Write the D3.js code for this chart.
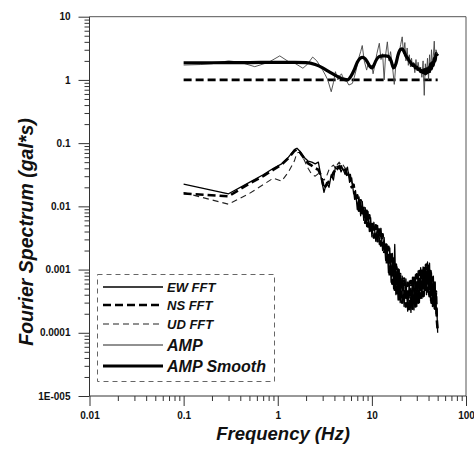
<!DOCTYPE html>
<html><head><meta charset="utf-8">
<script src="https://cdn.jsdelivr.net/npm/d3@7"></script>
<style>html,body{margin:0;padding:0;background:#fff;}svg{display:block;}</style>
</head><body><svg id="c" width="474" height="450"></svg>
<script>
// ---------- data ----------
const xTickValues = [0.01, 0.1, 1, 10, 100];
const xTickLabels = ["0.01", "0.1", "1", "10", "100"];
const yTickValues = [10, 1, 0.1, 0.01, 0.001, 0.0001, 0.00001];
const yTickLabels = ["10", "1", "0.1", "0.01", "0.001", "0.0001", "1E-005"];

const fftFreq = [
  0.1, 0.3, 0.5, 0.7, 0.9, 1.1, 1.3, 1.5, 1.6, 1.7,
  1.9, 2.1, 2.3, 2.5, 2.7, 2.9, 3.1, 3.3, 3.5, 3.7,
  3.9, 4.1, 4.3, 4.5, 4.7, 4.9, 5.2,
  5.5, 5.8, 6.1, 6.4, 6.7, 7.0, 7.3, 7.6, 7.9, 8.2,
  8.5, 8.8, 9.1, 9.4, 9.7, 10, 10.5, 11, 11.5, 12,
  12.5, 13, 13.5, 14, 14.5, 15, 15.5, 16, 16.5, 17,
  17.5, 18, 18.5, 19, 19.5, 20, 21, 22, 23, 24,
  25, 26, 27, 28, 29, 30, 31, 32, 33, 34,
  35, 36, 37, 38, 39, 40, 41, 42, 43, 44,
  45, 46, 47, 48, 49, 50];
const ewFFT = [
  0.0224, 0.0158, 0.024, 0.0316, 0.040, 0.047, 0.060, 0.079, 0.083, 0.076,
  0.060, 0.052, 0.050, 0.047, 0.050, 0.028, 0.0166, 0.024, 0.020, 0.0316,
  0.026, 0.042, 0.038, 0.045, 0.035, 0.040, 0.032,
  0.0417, 0.0240, 0.0282, 0.0158, 0.0178, 0.0089, 0.0141, 0.0071, 0.0120, 0.0060,
  0.0095, 0.0048, 0.0083, 0.0040, 0.0066, 0.0033, 0.0056, 0.0028, 0.0050, 0.0025,
  0.0045, 0.0020, 0.0032, 0.0014, 0.0025, 0.00089, 0.0022, 0.00063, 0.0018, 0.0005,
  0.0025, 0.0004, 0.0011, 0.00033, 0.0010, 0.0003, 0.00079, 0.00026, 0.00071, 0.00022,
  0.00066, 0.00021, 0.00076, 0.00023, 0.00083, 0.00026, 0.00095, 0.0003, 0.00107, 0.00035,
  0.0011, 0.00038, 0.0012, 0.0004, 0.00132, 0.0004, 0.00126, 0.00032, 0.00089, 0.00026,
  0.00079, 0.00024, 0.00063, 0.0002, 0.00025, 0.0001];
const nsFFT = [
  0.016, 0.0144, 0.023, 0.030, 0.038, 0.046, 0.058, 0.075, 0.080, 0.074,
  0.058, 0.048, 0.044, 0.040, 0.038, 0.030, 0.019, 0.022, 0.025, 0.028,
  0.034, 0.038, 0.042, 0.040, 0.043, 0.036, 0.038,
  0.030, 0.033, 0.020, 0.022, 0.012, 0.015, 0.0085, 0.0125, 0.0070, 0.0100,
  0.0055, 0.0085, 0.0048, 0.0072, 0.0037, 0.0058, 0.0032, 0.0050, 0.0028, 0.0048,
  0.0024, 0.0036, 0.0018, 0.0027, 0.0012, 0.0023, 0.00078, 0.0019, 0.0006, 0.0015,
  0.00048, 0.0012, 0.00038, 0.0010, 0.00034, 0.00085, 0.0003, 0.00072, 0.00026, 0.00062,
  0.00022, 0.00066, 0.00024, 0.00074, 0.00026, 0.00084, 0.0003, 0.00095, 0.00036, 0.00105,
  0.00038, 0.0011, 0.00043, 0.0012, 0.00045, 0.00125, 0.00038, 0.00095, 0.0003, 0.00075,
  0.00027, 0.00068, 0.00024, 0.00045, 0.00016, 0.00011];
const udFFT = [
  0.0165, 0.0108, 0.016, 0.022, 0.028, 0.025, 0.035, 0.052, 0.070, 0.072,
  0.055, 0.040, 0.032, 0.030, 0.033, 0.028, 0.026, 0.030, 0.038, 0.042,
  0.045, 0.040, 0.046, 0.050, 0.044, 0.046, 0.040,
  0.040, 0.030, 0.024, 0.018, 0.015, 0.011, 0.0115, 0.0090, 0.0095, 0.0072,
  0.0075, 0.0060, 0.0065, 0.0050, 0.0052, 0.0040, 0.0045, 0.0035, 0.0040, 0.0033,
  0.0034, 0.0025, 0.0025, 0.0018, 0.0018, 0.0013, 0.0014, 0.0010, 0.0011, 0.0008,
  0.0009, 0.0006, 0.00068, 0.0005, 0.00062, 0.00045, 0.00052, 0.00038, 0.00045, 0.00034,
  0.00042, 0.00033, 0.00045, 0.00036, 0.0005, 0.0004, 0.00055, 0.00045, 0.0006, 0.0005,
  0.00068, 0.00055, 0.00072, 0.0006, 0.0008, 0.0007, 0.00075, 0.00055, 0.0005, 0.0004,
  0.00045, 0.00035, 0.00038, 0.0003, 0.0002, 0.00011];

const ampFreq = [
  0.1, 0.15, 0.2, 0.3, 0.4, 0.57, 0.8, 1.05, 1.3, 1.55,
  1.85, 2.05, 2.35, 2.6, 3.0, 3.2, 3.4, 3.7, 3.9, 4.1,
  4.35, 4.55, 4.75, 5.0, 5.3, 5.7, 6.2, 6.5, 6.8, 7.3,
  7.6, 7.9, 8.3, 8.8, 9.2, 9.6, 10.0, 10.3, 10.8, 11.3,
  12.0, 12.5, 13.0, 13.5, 14.0, 14.6, 15.2, 15.8, 16.5, 17.3,
  18.0, 18.7, 19.5, 20.2, 21.0, 21.7, 22.4, 23.0, 23.7, 24.4,
  25.0, 25.7, 26.4, 27.0, 27.8, 28.6, 29.4, 30.2, 31.0, 32,
  33, 34, 35, 36, 37, 38, 39, 40, 41, 42,
  43, 44, 45, 46, 47, 48, 49, 50];
const ampVal = [
  1.72, 1.75, 1.8, 2.0, 1.9, 1.62, 1.9, 2.4, 1.95, 1.8,
  1.53, 1.75, 2.3, 2.0, 1.43, 1.2, 1.0, 0.65, 0.9, 1.35,
  1.0, 1.15, 1.25, 1.05, 1.0, 0.83, 0.88, 1.1, 1.43, 2.3,
  2.8, 3.5, 2.0, 1.43, 1.9, 1.6, 1.7, 1.25, 1.8, 2.6,
  3.8, 2.1, 2.6, 1.0, 2.5, 4.0, 2.0, 2.8, 1.7, 0.85,
  1.8, 2.4, 2.7, 3.6, 4.8, 2.6, 3.9, 2.0, 3.2, 1.7,
  2.5, 1.6, 2.2, 1.6, 1.9, 1.3, 2.1, 1.4, 1.9, 1.4,
  1.6, 1.1, 2.0, 0.57, 1.8, 1.2, 2.2, 1.0, 2.5, 1.3,
  3.0, 1.6, 2.4, 4.1, 1.9, 3.0, 2.7, 2.6];

const smoothFreq = [
  0.1, 0.2, 0.5, 1, 1.5, 2, 2.5, 3, 3.5, 4,
  4.5, 5, 5.5, 6, 6.5, 7, 7.5, 8, 8.5, 9,
  9.5, 10, 10.5, 11, 12, 13, 14, 15, 16, 17,
  18, 19, 20, 21, 22, 23, 24, 25, 26, 27,
  28, 29, 30, 31, 32, 33, 34, 35, 36, 37,
  38, 39, 40, 41, 42, 43, 44, 45, 46, 47,
  48, 49, 50];
const smoothVal = [
  1.87, 1.87, 1.88, 1.9, 1.9, 1.88, 1.75, 1.55, 1.35, 1.2,
  1.1, 1.03, 1.0, 1.15, 1.45, 1.9, 2.2, 2.28, 2.15, 1.9,
  1.65, 1.55, 1.7, 2.0, 2.35, 2.4, 2.4, 2.35, 2.0, 1.55,
  1.8, 2.5, 3.0, 3.1, 2.8, 2.4, 2.2, 2.0, 1.85, 1.7,
  1.75, 1.55, 1.6, 1.45, 1.5, 1.35, 1.4, 1.3, 1.45, 1.25,
  1.5, 1.3, 1.55, 1.35, 1.8, 1.5, 1.9, 1.7, 2.2, 2.0,
  2.6, 2.5, 2.6];

const refFreq = [0.1, 50];
const refVal = [1, 1];

const legendLabels = ["EW FFT", "NS FFT", "UD FFT", "AMP", "AMP Smooth"];

// ---------- drawing ----------
const svg = d3.select("#c");
const FONT = "'Liberation Sans', Arial, Helvetica, sans-serif";
const L = 89.5, R = 466, T = 16.7, B = 396;
const x = d3.scaleLog().domain([0.01, 100]).range([L, R]);
const y = d3.scaleLog().domain([1e-5, 10]).range([B, T]);

// frame (top and right)
svg.append("path").attr("d", `M${L},${T}H${R}V${B}`)
  .attr("fill", "none").attr("stroke", "#555").attr("stroke-width", 1);

// x axis
const xMinor = [];
for (let d = 0.01; d < 100; d *= 10) for (let k = 2; k <= 9; k++) xMinor.push(+(d * k).toPrecision(3));
const xAxisMinor = d3.axisBottom(x).tickValues(xMinor).tickSize(5).tickFormat("");
const xAxis = d3.axisBottom(x).tickValues(xTickValues).tickSize(10).tickPadding(6)
  .tickFormat((d, i) => xTickLabels[i]);
const gx1 = svg.append("g").attr("transform", `translate(0,${B})`).call(xAxisMinor);
const gx = svg.append("g").attr("transform", `translate(0,${B})`).call(xAxis);
[gx, gx1].forEach(g => {
  g.select(".domain").attr("stroke", "#333");
  g.selectAll(".tick line").attr("stroke", "#333");
});
gx1.select(".domain").remove();
gx.select(".domain").attr("d", `M${L},0H${R}`);
gx.selectAll("text").attr("font-family", FONT).attr("font-weight", "bold")
  .attr("font-size", 10).attr("fill", "#111");

// y axis
const yMinor = [];
for (let d = 1e-5; d < 10; d *= 10) for (let k = 2; k <= 9; k++) yMinor.push(+(d * k).toPrecision(3));
const yAxisMinor = d3.axisLeft(y).tickValues(yMinor).tickSize(5).tickFormat("");
const yAxis = d3.axisLeft(y).tickValues(yTickValues).tickSize(11).tickPadding(8)
  .tickFormat((d, i) => yTickLabels[i]);
const gy1 = svg.append("g").attr("transform", `translate(${L},0)`).call(yAxisMinor);
const gy = svg.append("g").attr("transform", `translate(${L},0)`).call(yAxis);
[gy, gy1].forEach(g => {
  g.select(".domain").attr("stroke", "#333");
  g.selectAll(".tick line").attr("stroke", "#333");
});
gy1.select(".domain").remove();
gy.select(".domain").attr("d", `M0,${B}V${T}`);
gy.selectAll("text").attr("font-family", FONT).attr("font-weight", "bold")
  .attr("font-size", 10).attr("fill", "#111");

// axis titles
svg.append("text").attr("x", 283).attr("y", 440).attr("text-anchor", "middle")
  .attr("font-family", FONT).attr("font-weight", "bold").attr("font-style", "italic")
  .attr("font-size", 18.5).attr("fill", "#111").text("Frequency (Hz)");
svg.append("text").attr("transform", "translate(33,232) rotate(-90)").attr("text-anchor", "middle")
  .attr("font-family", FONT).attr("font-weight", "bold").attr("font-style", "italic")
  .attr("font-size", 19.5).attr("fill", "#111").text("Fourier Spectrum (gal*s)");

// series
const line = d3.line().x(d => x(d[0])).y(d => y(d[1]));
const smoothLine = d3.line().x(d => x(d[0])).y(d => y(d[1])).curve(d3.curveMonotoneX);
const plot = svg.append("g");

const styles = {
  ew: {stroke: "#000", width: 1.3, dash: null},
  ns: {stroke: "#000", width: 2.6, dash: "8,4"},
  ud: {stroke: "#222", width: 1.1, dash: "6,4"},
  amp: {stroke: "#444", width: 0.9, dash: null},
  smooth: {stroke: "#000", width: 3.2, dash: null}
};
function draw(data, st, gen) {
  plot.append("path").datum(data).attr("d", gen || line).attr("fill", "none")
    .attr("stroke", st.stroke).attr("stroke-width", st.width)
    .attr("stroke-dasharray", st.dash).attr("stroke-linejoin", "round");
}
draw(d3.zip(refFreq, refVal), styles.ns);
draw(d3.zip(fftFreq, udFFT), styles.ud);
draw(d3.zip(fftFreq, nsFFT), styles.ns);
draw(d3.zip(fftFreq, ewFFT), styles.ew);
draw(d3.zip(ampFreq, ampVal), styles.amp);
draw(d3.zip(smoothFreq, smoothVal), styles.smooth, smoothLine);

// legend
const lg = svg.append("g");
lg.append("rect").attr("x", 97.5).attr("y", 274.5).attr("width", 177).attr("height", 107)
  .attr("fill", "#fff").attr("stroke", "#666").attr("stroke-width", 1).attr("stroke-dasharray", "5,4");
const legY = [287, 305, 324, 345, 366];
const legStyles = [styles.ew, styles.ns, styles.ud, styles.amp, styles.smooth];
const legSizes = [13, 13, 13, 16, 16];
legendLabels.forEach((lab, i) => {
  const st = legStyles[i];
  lg.append("line").attr("x1", 103).attr("x2", 163).attr("y1", legY[i]).attr("y2", legY[i])
    .attr("stroke", i === 3 ? "#222" : st.stroke).attr("stroke-width", i === 3 ? 1 : st.width)
    .attr("stroke-dasharray", st.dash);
  lg.append("text").attr("x", 167).attr("y", legY[i] + legSizes[i] * 0.36)
    .attr("font-family", FONT).attr("font-weight", "bold").attr("font-style", "italic")
    .attr("font-size", legSizes[i]).attr("fill", "#111").text(lab);
});
</script></body></html>
